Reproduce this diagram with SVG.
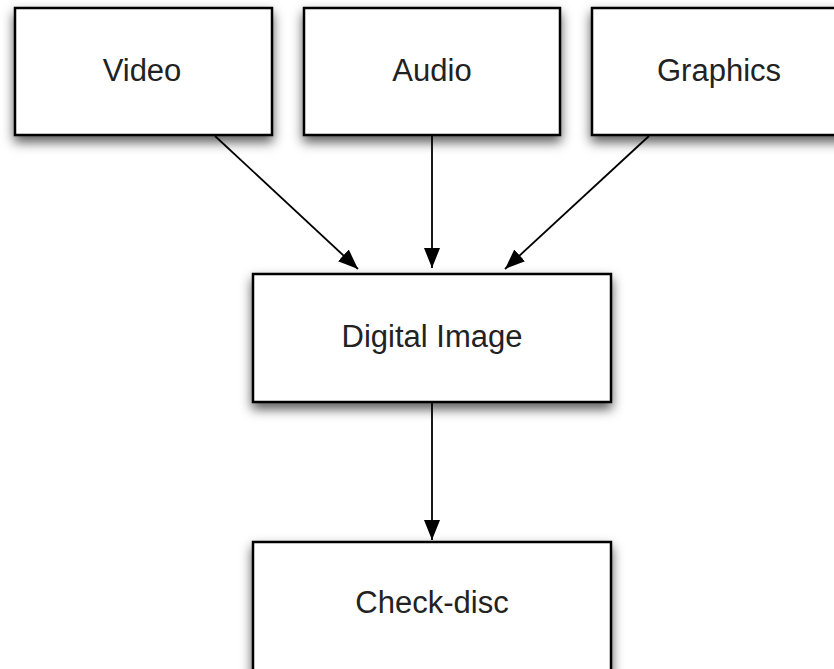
<svg xmlns="http://www.w3.org/2000/svg" width="834" height="669" viewBox="0 0 834 669">
<defs>
<filter id="sh" x="-20%" y="-20%" width="140%" height="160%">
<feDropShadow dx="0" dy="6" stdDeviation="6" flood-color="#000" flood-opacity="0.65"/>
</filter>
<marker id="ah" viewBox="0 0 20 16" refX="20" refY="8" markerWidth="20" markerHeight="16" markerUnits="userSpaceOnUse" orient="auto">
<path d="M0,0 L20,8 L0,16 Z" fill="#000"/>
</marker>
<style>
.box{fill:#fff;stroke:#000;stroke-width:2.5;filter:url(#sh)}
.lbl{font-family:"Liberation Sans",Arial,sans-serif;font-size:31px;fill:#222;text-anchor:middle}
.edge{stroke:#000;stroke-width:1.8;fill:none;marker-end:url(#ah)}
</style>
</defs>
<rect width="834" height="669" fill="#fff"/>
<g id="video"><rect class="box" x="15" y="8" width="257" height="127"/><text class="lbl" x="142" y="81">Video</text></g>
<g id="audio"><rect class="box" x="304" y="8" width="256" height="127"/><text class="lbl" x="432" y="81">Audio</text></g>
<g id="graphics"><rect class="box" x="592" y="8" width="260" height="127"/><text class="lbl" x="719" y="81">Graphics</text></g>
<g id="digital"><rect class="box" x="253" y="274" width="358" height="128"/><text class="lbl" x="432" y="347">Digital Image</text></g>
<g id="check"><rect class="box" x="253" y="542" width="358" height="140"/><text class="lbl" x="432" y="613">Check-disc</text></g>
<g id="connectors">
<line class="edge" x1="215" y1="136" x2="358" y2="269"/>
<line class="edge" x1="432" y1="136" x2="432" y2="268"/>
<line class="edge" x1="649" y1="136" x2="505" y2="269"/>
<line class="edge" x1="432" y1="403" x2="432" y2="540"/>
</g>
</svg>
